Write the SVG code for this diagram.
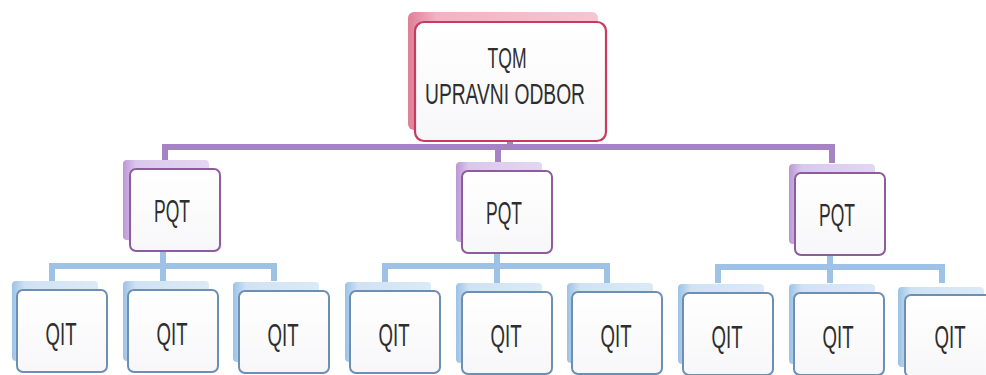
<svg xmlns="http://www.w3.org/2000/svg" width="986" height="375" viewBox="0 0 986 375">
<defs>
<linearGradient id="gRed" x1="0" y1="0" x2="1" y2="0"><stop offset="0" stop-color="#e07e98"/><stop offset="0.15" stop-color="#f0b4c4"/><stop offset="1" stop-color="#f4c6d2"/></linearGradient>
<linearGradient id="gPur" x1="0" y1="0" x2="1" y2="0"><stop offset="0" stop-color="#bb98d6"/><stop offset="0.15" stop-color="#dac8ec"/><stop offset="1" stop-color="#e4d6f2"/></linearGradient>
<linearGradient id="gBlu" x1="0" y1="0" x2="1" y2="0"><stop offset="0" stop-color="#9cc2e6"/><stop offset="0.15" stop-color="#cfe2f4"/><stop offset="1" stop-color="#dbeaf7"/></linearGradient>
<linearGradient id="gBox" x1="0" y1="0" x2="0" y2="1"><stop offset="0" stop-color="#ffffff"/><stop offset="1" stop-color="#f7f7f9"/></linearGradient>
</defs>
<style>
.t{font-family:"Liberation Sans",Arial,sans-serif;fill:#2e2e2e;text-anchor:middle}
.sr{fill:url(#gRed)}
.sp{fill:url(#gPur)}
.sb{fill:url(#gBlu)}
.mr{fill:url(#gBox);stroke:#c83a5e;stroke-width:2.2}
.mp{fill:url(#gBox);stroke:#8d5c9e;stroke-width:2}
.mb{fill:url(#gBox);stroke:#6d8fb3;stroke-width:2}
.cp{fill:none;stroke:#a683c2;stroke-width:6}
.cb{fill:none;stroke:#9ec2e5;stroke-width:6}
</style>
<g id="connectors">
<path class="cp" d="M165,163 V147 H832 V163 M498,147 V163 M510,141 V147"/>
<path class="cb" d="M52,281 V266 H274 V281 M163,251 V281"/>
<path class="cb" d="M385,283 V266 H607 V283 M497,253 V283"/>
<path class="cb" d="M718,283 V267 H942 V283 M830,255 V283"/>
</g>
<g id="tqm">
<rect class="sr" x="408" y="12" width="190" height="118" rx="6"/>
<rect class="mr" x="415" y="22" width="191" height="119" rx="9"/>
<text class="t" x="507" y="68" font-size="30" textLength="39" lengthAdjust="spacingAndGlyphs">TQM</text>
<text class="t" x="505" y="104" font-size="30" textLength="160" lengthAdjust="spacingAndGlyphs">UPRAVNI ODBOR</text>
</g>
<g id="pqt1">
<rect class="sp" x="123" y="160" width="86" height="80" rx="4"/>
<rect class="mp" x="130" y="169" width="90" height="82" rx="6"/>
<text class="t" x="172" y="222" font-size="31" textLength="36" lengthAdjust="spacingAndGlyphs">PQT</text>
</g>
<g id="pqt2">
<rect class="sp" x="456" y="162" width="86" height="80" rx="4"/>
<rect class="mp" x="462" y="171" width="90" height="82" rx="6"/>
<text class="t" x="504" y="224" font-size="31" textLength="36" lengthAdjust="spacingAndGlyphs">PQT</text>
</g>
<g id="pqt3">
<rect class="sp" x="789" y="164" width="86" height="80" rx="4"/>
<rect class="mp" x="795" y="173" width="90" height="82" rx="6"/>
<text class="t" x="837" y="226" font-size="31" textLength="36" lengthAdjust="spacingAndGlyphs">PQT</text>
</g>
<g id="qit1"><rect class="sb" x="12" y="281" width="86" height="80" rx="4"/><rect class="mb" x="17" y="290" width="90" height="82" rx="6"/><text class="t" x="61" y="345" font-size="32" textLength="31" lengthAdjust="spacingAndGlyphs">QIT</text></g>
<g id="qit2"><rect class="sb" x="123" y="281" width="86" height="80" rx="4"/><rect class="mb" x="128" y="290" width="90" height="82" rx="6"/><text class="t" x="172" y="345" font-size="32" textLength="31" lengthAdjust="spacingAndGlyphs">QIT</text></g>
<g id="qit3"><rect class="sb" x="233" y="282" width="86" height="80" rx="4"/><rect class="mb" x="239" y="291" width="90" height="82" rx="6"/><text class="t" x="283" y="346" font-size="32" textLength="31" lengthAdjust="spacingAndGlyphs">QIT</text></g>
<g id="qit4"><rect class="sb" x="345" y="282" width="86" height="80" rx="4"/><rect class="mb" x="350" y="291" width="90" height="82" rx="6"/><text class="t" x="394" y="346" font-size="32" textLength="31" lengthAdjust="spacingAndGlyphs">QIT</text></g>
<g id="qit5"><rect class="sb" x="456" y="283" width="86" height="80" rx="4"/><rect class="mb" x="462" y="292" width="90" height="82" rx="6"/><text class="t" x="506" y="347" font-size="32" textLength="31" lengthAdjust="spacingAndGlyphs">QIT</text></g>
<g id="qit6"><rect class="sb" x="567" y="283" width="86" height="80" rx="4"/><rect class="mb" x="572" y="292" width="90" height="82" rx="6"/><text class="t" x="616" y="347" font-size="32" textLength="31" lengthAdjust="spacingAndGlyphs">QIT</text></g>
<g id="qit7"><rect class="sb" x="678" y="284" width="86" height="80" rx="4"/><rect class="mb" x="683" y="293" width="90" height="82" rx="6"/><text class="t" x="727" y="348" font-size="32" textLength="31" lengthAdjust="spacingAndGlyphs">QIT</text></g>
<g id="qit8"><rect class="sb" x="789" y="284" width="86" height="80" rx="4"/><rect class="mb" x="794" y="293" width="90" height="82" rx="6"/><text class="t" x="838" y="348" font-size="32" textLength="31" lengthAdjust="spacingAndGlyphs">QIT</text></g>
<g id="qit9"><rect class="sb" x="898" y="287" width="86" height="80" rx="4"/><rect class="mb" x="905" y="295" width="90" height="82" rx="6"/><text class="t" x="950" y="348" font-size="32" textLength="31" lengthAdjust="spacingAndGlyphs">QIT</text></g>
</svg>
